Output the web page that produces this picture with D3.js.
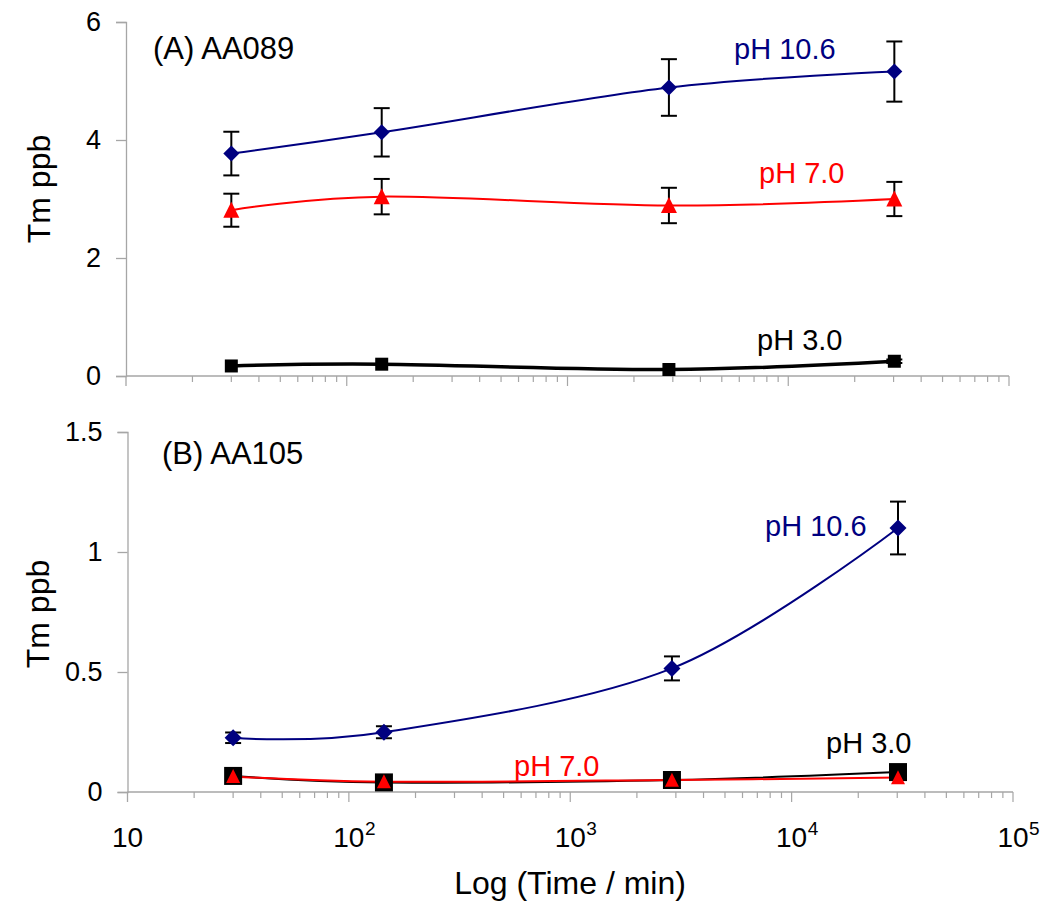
<!DOCTYPE html>
<html>
<head>
<meta charset="utf-8">
<script src="https://cdn.jsdelivr.net/npm/d3@7"></script>
<style>
  body { margin: 0; background: #fff; }
  svg { font-family: "Liberation Sans", Arial, sans-serif; }
</style>
</head>
<body>
<svg id="chart" width="1050" height="923"></svg>
<script>
// sampling times (min)
var times = [30, 144, 2880, 30240];

// panel A: AA089
var a_ph106 = [3.77, 4.13, 4.89, 5.16];
var a_ph106_err = [0.37, 0.41, 0.48, 0.51];
var a_ph70 = [2.81, 3.04, 2.89, 3.00];
var a_ph70_err = [0.28, 0.30, 0.30, 0.29];
var a_ph30 = [0.17, 0.20, 0.11, 0.25];
var a_ph30_err = [0, 0, 0, 0.03];

// panel B: AA105
var b_ph106 = [0.226, 0.249, 0.515, 1.10];
var b_ph106_err = [0.022, 0.025, 0.05, 0.11];
var b_ph70 = [0.065, 0.043, 0.05, 0.06];
var b_ph30 = [0.067, 0.04, 0.05, 0.083];

var aTicks = [0, 2, 4, 6];
var bTicks = [0, 0.5, 1, 1.5];
var xMajor = [10, 100, 1000, 10000, 100000];
var xLabels = ['10', '10|2', '10|3', '10|4', '10|5'];

var svg = d3.select('#chart');
var navy = '#000080', red = '#ff0000', axisGrey = '#a6a6a6';

// scales
var xA = d3.scaleLog().domain([10, 100000]).range([126, 1009]);
var xB = d3.scaleLog().domain([10, 100000]).range([127.5, 1013]);
var yA = d3.scaleLinear().domain([0, 6]).range([376, 22]);
var yB = d3.scaleLinear().domain([0, 1.5]).range([792, 432]);

function zip(vals, errs) {
    return times.map(function(t, i) {
        return { t: t, v: vals[i], e: errs ? errs[i] : 0 };
    });
}

// minor ticks on the log axis: 2..9 of each decade
var minorTicks = [];
for (var dec = 10; dec < 100000; dec *= 10) {
    for (var k = 2; k <= 9; k++) minorTicks.push(dec * k);
}

function drawAxes(x, y, ticks, fmt) {
    var g = svg.append('g');
    // y axis
    g.append('g')
        .attr('transform', 'translate(' + x.range()[0] + ',0)')
        .call(d3.axisLeft(y).tickValues(ticks).tickSize(10).tickPadding(15).tickFormat(fmt))
        .call(function(s) {
            s.selectAll('.domain').attr('stroke', axisGrey).attr('stroke-width', 1.3);
            s.selectAll('.tick line').attr('stroke', axisGrey).attr('stroke-width', 1.3);
            s.selectAll('.tick text').attr('font-size', 27).attr('fill', '#000')
                .attr('font-family', '"Liberation Sans", Arial, sans-serif');
        });
    // x axis line and ticks
    var y0 = y(0);
    g.append('line')
        .attr('x1', x.range()[0]).attr('x2', x.range()[1])
        .attr('y1', y0).attr('y2', y0)
        .attr('stroke', axisGrey).attr('stroke-width', 1.3);
    g.append('line')
        .attr('x1', x.range()[0]).attr('x2', x.range()[0])
        .attr('y1', y0).attr('y2', y0 + 10)
        .attr('stroke', axisGrey).attr('stroke-width', 1.3);
    g.selectAll('line.minor')
        .data(minorTicks)
        .enter().append('line')
        .attr('class', 'minor')
        .attr('x1', function(d) { return x(d); })
        .attr('x2', function(d) { return x(d); })
        .attr('y1', y0)
        .attr('y2', y0 + 6)
        .attr('stroke', axisGrey).attr('stroke-width', 1.2);
    g.selectAll('line.major')
        .data(xMajor.slice(1))
        .enter().append('line')
        .attr('class', 'major')
        .attr('x1', function(d) { return x(d); })
        .attr('x2', function(d) { return x(d); })
        .attr('y1', y0)
        .attr('y2', y0 + 10)
        .attr('stroke', axisGrey).attr('stroke-width', 1.2);
}

var smooth = d3.line()
    .curve(d3.curveCatmullRom.alpha(0));

function drawSeries(x, y, data, color, width) {
    svg.append('path')
        .datum(data)
        .attr('fill', 'none')
        .attr('stroke', color)
        .attr('stroke-width', width)
        .attr('stroke-linejoin', 'round')
        .attr('d', smooth.x(function(d) { return x(d.t); }).y(function(d) { return y(d.v); }));
}

function drawErrors(x, y, data) {
    var g = svg.append('g');
    data.filter(function(d) { return d.e > 0; }).forEach(function(d) {
        var cx = x(d.t), top = y(d.v + d.e), bot = y(d.v - d.e);
        g.append('line').attr('x1', cx).attr('x2', cx).attr('y1', top).attr('y2', bot)
            .attr('stroke', '#000').attr('stroke-width', 2);
        [top, bot].forEach(function(yy) {
            g.append('line').attr('x1', cx - 8).attr('x2', cx + 8).attr('y1', yy).attr('y2', yy)
                .attr('stroke', '#000').attr('stroke-width', 2);
        });
    });
}

function drawMarkers(x, y, data, type, size, fill, stroke) {
    svg.append('g').selectAll('path')
        .data(data)
        .enter().append('path')
        .attr('transform', function(d) { return 'translate(' + x(d.t) + ',' + y(d.v) + ')'; })
        .attr('d', d3.symbol().type(type).size(size))
        .attr('fill', fill)
        .attr('stroke', stroke || 'none')
        .attr('stroke-width', stroke ? 1 : 0);
}

// diamond / triangle whose "size" is the bounding box width squared
var diamond = {
    draw: function(ctx, size) {
        var r = Math.sqrt(size) / 2;
        ctx.moveTo(0, -r); ctx.lineTo(r, 0); ctx.lineTo(0, r); ctx.lineTo(-r, 0); ctx.closePath();
    }
};
var triangle = {
    draw: function(ctx, size) {
        var h = Math.sqrt(size) / 2;
        ctx.moveTo(0, -h * 1.05); ctx.lineTo(h, h * 0.95); ctx.lineTo(-h, h * 0.95); ctx.closePath();
    }
};

function label(x, y, text, color, size, anchor) {
    svg.append('text')
        .attr('x', x).attr('y', y)
        .attr('fill', color)
        .attr('font-size', size)
        .attr('text-anchor', anchor || 'start')
        .text(text);
}

// ---------- panel A ----------
drawAxes(xA, yA, aTicks, d3.format('d'));

var aD106 = zip(a_ph106, a_ph106_err);
var aD70 = zip(a_ph70, a_ph70_err);
var aD30 = zip(a_ph30, a_ph30_err);

drawSeries(xA, yA, aD106, navy, 2);
drawSeries(xA, yA, aD70, red, 2);
drawSeries(xA, yA, aD30, '#000', 3.5);
drawErrors(xA, yA, aD106);
drawErrors(xA, yA, aD70);
drawErrors(xA, yA, aD30);
drawMarkers(xA, yA, aD106, diamond, 16 * 16, navy);
drawMarkers(xA, yA, aD70, triangle, 16 * 16, red);
drawMarkers(xA, yA, aD30, d3.symbolSquare, 13 * 13, '#000');

label(153, 59, '(A) AA089', '#000', 31);
label(734, 59, 'pH 10.6', navy, 29);
label(759, 183, 'pH 7.0', red, 29);
label(757, 350, 'pH 3.0', '#000', 29);

svg.append('text')
    .attr('transform', 'translate(50,189) rotate(-90)')
    .attr('text-anchor', 'middle')
    .attr('font-size', 32)
    .text('Tm ppb');

// ---------- panel B ----------
drawAxes(xB, yB, bTicks, function(d) { return d === 0 ? '0' : String(d); });

var bD106 = zip(b_ph106, b_ph106_err);
var bD70 = zip(b_ph70);
var bD30 = zip(b_ph30);

drawSeries(xB, yB, bD106, navy, 2);
drawSeries(xB, yB, bD30, '#000', 2);
drawSeries(xB, yB, bD70, red, 2);
drawErrors(xB, yB, bD106);
drawMarkers(xB, yB, bD106, diamond, 17 * 17, navy);
drawMarkers(xB, yB, bD30, d3.symbolSquare, 18 * 18, '#000');
drawMarkers(xB, yB, bD70, triangle, 14 * 14, red);

label(162, 464, '(B) AA105', '#000', 31);
label(765, 536, 'pH 10.6', navy, 29);
label(514, 776, 'pH 7.0', red, 29);
label(826, 753, 'pH 3.0', '#000', 29);

svg.append('text')
    .attr('transform', 'translate(49,614) rotate(-90)')
    .attr('text-anchor', 'middle')
    .attr('font-size', 32)
    .text('Tm ppb');

// x tick labels: mantissa centred on the tick, exponent as superscript
var xl = svg.append('g');
xMajor.forEach(function(v, i) {
    var parts = xLabels[i].split('|');
    xl.append('text')
        .attr('x', xB(v))
        .attr('y', 847)
        .attr('text-anchor', 'middle')
        .attr('font-size', 28)
        .text(parts[0]);
    if (parts[1]) {
        xl.append('text')
            .attr('x', xB(v) + 16)
            .attr('y', 835)
            .attr('font-size', 19)
            .text(parts[1]);
    }
});

svg.append('text')
    .attr('x', 570).attr('y', 894)
    .attr('text-anchor', 'middle')
    .attr('font-size', 32)
    .text('Log (Time / min)');
</script>
</body>
</html>
